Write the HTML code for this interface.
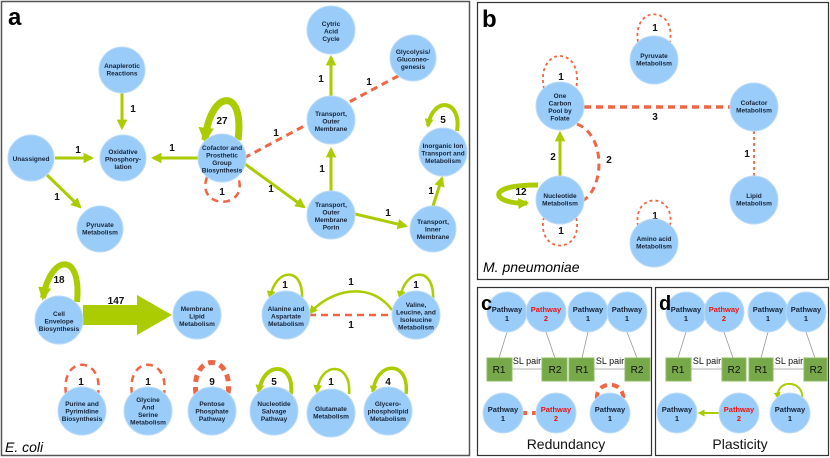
<!DOCTYPE html>
<html><head><meta charset="utf-8"><style>
body{margin:0;background:#fff}
svg{display:block;font-family:"Liberation Sans",sans-serif}
.n{fill:#99ccf8;stroke:#bcdcf8;stroke-width:1}
.t{font-size:6.5px;font-weight:bold;fill:#16243a;text-anchor:middle}
.l{font-size:10px;font-weight:bold;fill:#111;text-anchor:middle}
.g{stroke:#aacc00;fill:none}
.r{stroke:#ee6644;fill:none;stroke-dasharray:7 5}
.rs{stroke:#ee6644;fill:none;stroke-dasharray:3 3}
.p{font-size:7.5px;font-weight:bold;fill:#16243a;text-anchor:middle}
.p2{font-size:7.5px;font-weight:bold;fill:#ee1111;text-anchor:middle}
</style></head><body>
<svg width="830" height="458" viewBox="0 0 830 458" xmlns="http://www.w3.org/2000/svg">
<defs>
<marker id="a" viewBox="0 0 10 10" refX="8" refY="5" markerWidth="3.5" markerHeight="3.5" orient="auto" markerUnits="strokeWidth"><path d="M0,0L10,5L0,10z" fill="#aacc00"/></marker>
<marker id="b" viewBox="0 0 10 10" refX="8" refY="5" markerWidth="2.2" markerHeight="2.2" orient="auto" markerUnits="strokeWidth"><path d="M0,0L10,5L0,10z" fill="#aacc00"/></marker>
</defs>
<rect x="1.5" y="1.5" width="468" height="454" fill="none" stroke="#555" stroke-width="1.5"/>
<rect x="477.5" y="2.5" width="351" height="277" fill="none" stroke="#333" stroke-width="1.2"/>
<rect x="477.5" y="287.5" width="174" height="168" fill="none" stroke="#333" stroke-width="1.2"/>
<rect x="655.5" y="287.5" width="173" height="168" fill="none" stroke="#333" stroke-width="1.2"/>
<text x="8" y="25" font-size="24" font-weight="bold">a</text>
<text x="482" y="27" font-size="24" font-weight="bold">b</text>
<text x="5" y="452" font-size="14" font-style="italic">E. coli</text>
<text x="483" y="272" font-size="14" font-style="italic">M. pneumoniae</text>

<!-- panel a edges -->
<line x1="122" y1="93" x2="122" y2="128" class="g" stroke-width="3" marker-end="url(#a)"/>
<line x1="55" y1="158" x2="92" y2="158" class="g" stroke-width="3" marker-end="url(#a)"/>
<line x1="47" y1="175" x2="80" y2="207" class="g" stroke-width="3" marker-end="url(#a)"/>
<line x1="198" y1="158" x2="153" y2="158" class="g" stroke-width="3" marker-end="url(#a)"/>
<line x1="244" y1="158" x2="400" y2="75" class="r" stroke-width="3"/>
<line x1="245" y1="164" x2="304" y2="207" class="g" stroke-width="3" marker-end="url(#a)"/>
<line x1="331" y1="97" x2="331" y2="57" class="g" stroke-width="3" marker-end="url(#a)"/>
<line x1="331" y1="191" x2="331" y2="149" class="g" stroke-width="3" marker-end="url(#a)"/>
<line x1="355" y1="214" x2="406" y2="226" class="g" stroke-width="3" marker-end="url(#a)"/>
<line x1="433" y1="206" x2="442" y2="178" class="g" stroke-width="3" marker-end="url(#a)"/>
<path d="M238,140 C245,85 210,90 205,140" class="g" stroke-width="7" marker-end="url(#b)"/>
<path d="M207,177 C195,210 250,210 238,177" class="r" stroke-width="2.5"/>
<path d="M457,131 C462,100 433,95 428,126" class="g" stroke-width="4" marker-end="url(#b)"/>
<text x="133" y="112" class="l">1</text><text x="78" y="153" class="l">1</text><text x="57" y="200" class="l">1</text>
<text x="172" y="151" class="l">1</text><text x="222" y="124" class="l">27</text><text x="276" y="136" class="l">1</text>
<text x="369" y="85" class="l">1</text><text x="321" y="82" class="l">1</text><text x="322" y="172" class="l">1</text>
<text x="271" y="192" class="l">1</text><text x="222" y="195" class="l">1</text><text x="388" y="216" class="l">1</text>
<text x="431" y="194" class="l">1</text><text x="443" y="123" class="l">5</text>

<!-- row 2 -->
<path d="M77,302 C82,250 50,255 43,298" class="g" stroke-width="6" marker-end="url(#b)"/>
<polygon points="83,305 137,305 137,295 172,315 137,335 137,325 83,325" fill="#aacc00"/>
<text x="59" y="283" class="l">18</text><text x="116" y="304" class="l">147</text>
<path d="M302,300 C304,265 275,268 270,298" class="g" stroke-width="2.5" marker-end="url(#a)"/>
<path d="M433,300 C435,265 405,268 400,298" class="g" stroke-width="2.5" marker-end="url(#a)"/>
<path d="M392,310 C370,280 330,290 310,313" class="g" stroke-width="2.5" marker-end="url(#a)"/>
<line x1="309" y1="315" x2="393" y2="315" class="r" stroke-width="2.5"/>
<text x="285" y="288" class="l">1</text><text x="416" y="288" class="l">1</text>
<text x="351" y="285" class="l">1</text><text x="351" y="328" class="l">1</text>

<!-- row 3 loops -->
<path d="M66,394 C60,355 104,355 98,394" class="r" stroke-width="2.5" stroke-dasharray="6 5"/>
<path d="M132,394 C126,355 170,355 164,394" class="r" stroke-width="2.5" stroke-dasharray="6 5"/>
<path d="M196,394 C190,352 234,352 228,394" class="r" stroke-width="5" stroke-dasharray="6 5"/>
<path d="M291,394 C295,362 263,360 259,392" class="g" stroke-width="4" marker-end="url(#b)"/>
<path d="M349,394 C352,362 320,360 317,392" class="g" stroke-width="2.5" marker-end="url(#a)"/>
<path d="M406,394 C410,360 376,360 373,392" class="g" stroke-width="3.5" marker-end="url(#b)"/>
<text x="81" y="385" class="l">1</text><text x="148" y="385" class="l">1</text><text x="212" y="385" class="l">9</text>
<text x="274" y="385" class="l">5</text><text x="331" y="385" class="l">1</text><text x="388" y="385" class="l">4</text>

<!-- panel a nodes -->
<g>
<circle cx="122" cy="70" r="23" class="n"/><text class="t" x="122" y="68">Anaplerotic<tspan x="122" dy="7.5">Reactions</tspan></text>
<circle cx="123" cy="158" r="23" class="n"/><text class="t" x="123" y="154">Oxidative<tspan x="123" dy="7.5">Phosphory-</tspan><tspan x="123" dy="7.5">lation</tspan></text>
<circle cx="31" cy="158" r="23" class="n"/><text class="t" x="31" y="161">Unassigned</text>
<circle cx="100" cy="229" r="23" class="n"/><text class="t" x="100" y="227">Pyruvate<tspan x="100" dy="7.5">Metabolism</tspan></text>
<circle cx="222" cy="158" r="24" class="n"/><text class="t" x="222" y="150">Cofactor and<tspan x="222" dy="7.5">Prosthetic</tspan><tspan x="222" dy="7.5">Group</tspan><tspan x="222" dy="7.5">Biosynthesis</tspan></text>
<circle cx="331" cy="30" r="24" class="n"/><text class="t" x="331" y="26">Cytric<tspan x="331" dy="7.5">Acid</tspan><tspan x="331" dy="7.5">Cycle</tspan></text>
<circle cx="413" cy="58" r="23" class="n"/><text class="t" x="413" y="54">Glycolysis/<tspan x="413" dy="7.5">Gluconeo-</tspan><tspan x="413" dy="7.5">genesis</tspan></text>
<circle cx="331" cy="120" r="24" class="n"/><text class="t" x="331" y="116">Transport,<tspan x="331" dy="7.5">Outer</tspan><tspan x="331" dy="7.5">Membrane</tspan></text>
<circle cx="443" cy="152" r="24" class="n"/><text class="t" x="443" y="148">Inorganic Ion<tspan x="443" dy="7.5">Transport and</tspan><tspan x="443" dy="7.5">Metabolism</tspan></text>
<circle cx="331" cy="215" r="24" class="n"/><text class="t" x="331" y="207">Transport,<tspan x="331" dy="7.5">Outer</tspan><tspan x="331" dy="7.5">Membrane</tspan><tspan x="331" dy="7.5">Porin</tspan></text>
<circle cx="433" cy="229" r="23" class="n"/><text class="t" x="433" y="224">Transport,<tspan x="433" dy="7.5">Inner</tspan><tspan x="433" dy="7.5">Membrane</tspan></text>
<circle cx="59" cy="320" r="24" class="n"/><text class="t" x="59" y="316">Cell<tspan x="59" dy="7.5">Envelope</tspan><tspan x="59" dy="7.5">Biosynthesis</tspan></text>
<circle cx="197" cy="315" r="24" class="n"/><text class="t" x="197" y="311">Membrane<tspan x="197" dy="7.5">Lipid</tspan><tspan x="197" dy="7.5">Metabolism</tspan></text>
<circle cx="286" cy="315" r="24" class="n"/><text class="t" x="286" y="311">Alanine and<tspan x="286" dy="7.5">Aspartate</tspan><tspan x="286" dy="7.5">Metabolism</tspan></text>
<circle cx="416" cy="315" r="24" class="n"/><text class="t" x="416" y="307">Valine,<tspan x="416" dy="7.5">Leucine, and</tspan><tspan x="416" dy="7.5">Isoleucine</tspan><tspan x="416" dy="7.5">Metabolism</tspan></text>
<circle cx="82" cy="411" r="24" class="n"/><text class="t" x="82" y="406">Purine and<tspan x="82" dy="7.5">Pyrimidine</tspan><tspan x="82" dy="7.5">Biosynthesis</tspan></text>
<circle cx="148" cy="411" r="24" class="n"/><text class="t" x="148" y="402">Glycine<tspan x="148" dy="7.5">And</tspan><tspan x="148" dy="7.5">Serine</tspan><tspan x="148" dy="7.5">Metabolism</tspan></text>
<circle cx="212" cy="411" r="24" class="n"/><text class="t" x="212" y="406">Pentose<tspan x="212" dy="7.5">Phosphate</tspan><tspan x="212" dy="7.5">Pathway</tspan></text>
<circle cx="274" cy="411" r="24" class="n"/><text class="t" x="274" y="406">Nucleotide<tspan x="274" dy="7.5">Salvage</tspan><tspan x="274" dy="7.5">Pathway</tspan></text>
<circle cx="331" cy="413" r="24" class="n"/><text class="t" x="331" y="411">Glutamate<tspan x="331" dy="7.5">Metabolism</tspan></text>
<circle cx="388" cy="411" r="24" class="n"/><text class="t" x="388" y="406">Glycero-<tspan x="388" dy="7.5">phospholipid</tspan><tspan x="388" dy="7.5">Metabolism</tspan></text>
</g>

<!-- panel b -->
<path d="M638,42 C632,5 676,5 670,42" class="rs" stroke-width="1.8"/>
<path d="M544,89 C535,45 585,45 576,89" class="rs" stroke-width="1.8"/>
<path d="M544,217 C535,255 585,255 576,217" class="rs" stroke-width="1.8"/>
<path d="M638,226 C632,192 676,192 670,226" class="rs" stroke-width="1.8"/>
<line x1="584" y1="107" x2="730" y2="107" class="r" stroke-width="3.5"/>
<line x1="754" y1="131" x2="754" y2="176" class="rs" stroke-width="1.8"/>
<path d="M577,124 C605,135 605,185 584,200" class="r" stroke-width="3" stroke-dasharray="5 4"/>
<line x1="560" y1="176" x2="560" y2="133" class="g" stroke-width="3" marker-end="url(#a)"/>
<path d="M538,185 C480,185 495,205 527,203" class="g" stroke-width="5" marker-end="url(#b)"/>
<text x="655" y="31" class="l">1</text><text x="561" y="80" class="l">1</text><text x="655" y="120" class="l">3</text>
<text x="553" y="160" class="l">2</text><text x="609" y="163" class="l">2</text><text x="521" y="195" class="l">12</text>
<text x="561" y="234" class="l">1</text><text x="747" y="157" class="l">1</text><text x="655" y="219" class="l">1</text>
<circle cx="560" cy="106" r="24" class="n"/><text class="t" x="560" y="98">One<tspan x="560" dy="7.5">Carbon</tspan><tspan x="560" dy="7.5">Pool by</tspan><tspan x="560" dy="7.5">Folate</tspan></text>
<circle cx="654" cy="60" r="24" class="n"/><text class="t" x="654" y="58">Pyruvate<tspan x="654" dy="7.5">Metabolism</tspan></text>
<circle cx="754" cy="107" r="24" class="n"/><text class="t" x="754" y="105">Cofactor<tspan x="754" dy="7.5">Metabolism</tspan></text>
<circle cx="560" cy="200" r="24" class="n"/><text class="t" x="560" y="198">Nucleotide<tspan x="560" dy="7.5">Metabolism</tspan></text>
<circle cx="754" cy="200" r="24" class="n"/><text class="t" x="754" y="198">Lipid<tspan x="754" dy="7.5">Metabolism</tspan></text>
<circle cx="654" cy="243" r="24" class="n"/><text class="t" x="654" y="241">Amino acid<tspan x="654" dy="7.5">Metabolism</tspan></text>

<!-- panels c/d -->
<g stroke="#999" stroke-width="0.8">
<line x1="507" y1="332" x2="499" y2="358"/><line x1="546" y1="332" x2="555" y2="358"/>
<line x1="588" y1="332" x2="582" y2="358"/><line x1="627" y1="332" x2="637" y2="358"/>
<line x1="512" y1="369" x2="542" y2="369"/><line x1="594" y1="369" x2="625" y2="369"/>
<line x1="686" y1="332" x2="678" y2="358"/><line x1="724" y1="332" x2="733" y2="358"/>
<line x1="768" y1="332" x2="761" y2="358"/><line x1="806" y1="332" x2="815" y2="358"/>
<line x1="691" y1="369" x2="722" y2="369"/><line x1="773" y1="369" x2="804" y2="369"/>
</g>
<g fill="#77a84a" stroke="#8fbc60">
<rect x="487" y="358" width="25" height="23"/><rect x="542" y="358" width="25" height="23"/>
<rect x="569" y="358" width="25" height="23"/><rect x="625" y="358" width="25" height="23"/>
<rect x="666" y="358" width="25" height="23"/><rect x="722" y="358" width="24" height="23"/>
<rect x="749" y="358" width="24" height="23"/><rect x="804" y="358" width="23" height="23"/>
</g>
<g font-size="10" fill="#111" text-anchor="middle">
<text x="499" y="373">R1</text><text x="555" y="373">R2</text><text x="582" y="373">R1</text><text x="637" y="373">R2</text>
<text x="678" y="373">R1</text><text x="734" y="373">R2</text><text x="761" y="373">R1</text><text x="816" y="373">R2</text>
<text x="527" y="364" font-size="9">SL pair</text><text x="610" y="364" font-size="9">SL pair</text>
<text x="707" y="364" font-size="9">SL pair</text><text x="789" y="364" font-size="9">SL pair</text>
<text x="566" y="449" font-size="14">Redundancy</text><text x="740" y="449" font-size="14">Plasticity</text>
</g>
<line x1="520" y1="413" x2="540" y2="413" class="r" stroke-width="4" stroke-dasharray="6 8"/>
<path d="M597,399 C595,380 625,380 623,399" class="r" stroke-width="4" stroke-dasharray="6 5"/>
<line x1="719" y1="413" x2="699" y2="413" class="g" stroke-width="2" marker-end="url(#a)"/>
<path d="M802,399 C805,380 775,378 778,398" class="g" stroke-width="2" marker-end="url(#a)"/>
<g>
<circle cx="507" cy="312" r="20" class="n"/><text class="p" x="507" y="312">Pathway<tspan x="507" dy="9">1</tspan></text>
<circle cx="546" cy="312" r="20" class="n"/><text class="p2" x="546" y="312">Pathway<tspan x="546" dy="9">2</tspan></text>
<circle cx="588" cy="312" r="20" class="n"/><text class="p" x="588" y="312">Pathway<tspan x="588" dy="9">1</tspan></text>
<circle cx="627" cy="312" r="20" class="n"/><text class="p" x="627" y="312">Pathway<tspan x="627" dy="9">1</tspan></text>
<circle cx="686" cy="312" r="20" class="n"/><text class="p" x="686" y="312">Pathway<tspan x="686" dy="9">1</tspan></text>
<circle cx="724" cy="312" r="20" class="n"/><text class="p2" x="724" y="312">Pathway<tspan x="724" dy="9">2</tspan></text>
<circle cx="768" cy="312" r="20" class="n"/><text class="p" x="768" y="312">Pathway<tspan x="768" dy="9">1</tspan></text>
<circle cx="806" cy="312" r="20" class="n"/><text class="p" x="806" y="312">Pathway<tspan x="806" dy="9">1</tspan></text>
<circle cx="503" cy="413" r="20" class="n"/><text class="p" x="503" y="412">Pathway<tspan x="503" dy="9">1</tspan></text>
<circle cx="556" cy="413" r="20" class="n"/><text class="p2" x="556" y="412">Pathway<tspan x="556" dy="9">2</tspan></text>
<circle cx="610" cy="413" r="20" class="n"/><text class="p" x="610" y="412">Pathway<tspan x="610" dy="9">1</tspan></text>
<circle cx="677" cy="413" r="20" class="n"/><text class="p" x="677" y="412">Pathway<tspan x="677" dy="9">1</tspan></text>
<circle cx="739" cy="413" r="20" class="n"/><text class="p2" x="739" y="412">Pathway<tspan x="739" dy="9">2</tspan></text>
<circle cx="790" cy="413" r="20" class="n"/><text class="p" x="790" y="412">Pathway<tspan x="790" dy="9">1</tspan></text>
</g>
<text x="481" y="310" font-size="20" font-weight="bold">c</text>
<text x="659" y="310" font-size="20" font-weight="bold">d</text>
</svg>
</body></html>
